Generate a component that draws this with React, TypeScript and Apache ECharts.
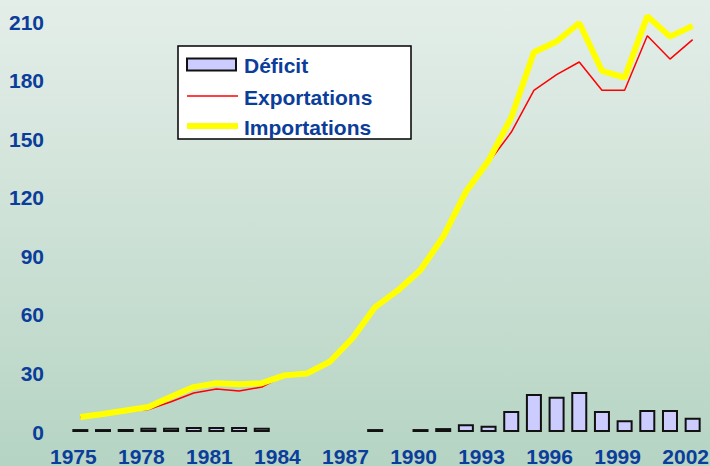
import React, { useEffect, useRef } from "react";
import * as echarts from "echarts";

const years = [
  "1975","1976","1977","1978","1979","1980","1981","1982","1983","1984",
  "1985","1986","1987","1988","1989","1990","1991","1992","1993","1994",
  "1995","1996","1997","1998","1999","2000","2001","2002",
];
const deficit: (number | null)[] = [
  1.5, 1.5, 1.5, 2.2, 2.2, 2.6, 2.6, 2.6, 2.2, null,
  null, null, null, 1.5, null, 1.5, 2, 4, 3.2, 10.8,
  19.5, 18, 20.5, 10.8, 6, 11.3, 11.3, 7.3,
];
const exportations = [
  7.5, 9, 10.5, 11.5, 15.5, 20, 22, 21, 23, 29,
  30, 36, 48, 64, 72.5, 83, 100, 122, 138, 153.5,
  175, 183, 189.5, 175, 175, 203, 191, 201,
];
const importations = [
  7.7, 9.2, 11, 12.8, 18, 23, 25, 24.5, 25, 29,
  30, 36, 48, 64, 72.5, 83, 100, 123, 139, 161,
  194.5, 200, 209.5, 185, 181.5, 213, 202.5, 208,
];
const legendNames = ["Déficit", "Exportations", "Importations"];

const BLUE = "#0b3d9a";
const FONT = "'Liberation Sans', Arial, sans-serif";

export default function App() {
  const ref = useRef<HTMLDivElement>(null);
  useEffect(() => {
    const chart = echarts.init(ref.current!, null, { renderer: "svg" });
    const textStyle = (y: number, t: string) => ({
      type: "text",
      x: 244,
      y,
      style: {
        text: t,
        fill: BLUE,
        font: `bold 21px ${FONT}`,
        verticalAlign: "middle",
        align: "left",
      },
    });
    chart.setOption({
      animation: false,
      backgroundColor: "transparent",
      grid: {
        left: 69,
        right: 6,
        top: 22,
        bottom: 34,
        containLabel: false,
        outerBoundsMode: "none",
      },
      graphic: [
        {
          type: "group",
          z: 100,
          children: [
            {
              type: "rect",
              shape: { x: 178, y: 46, width: 233, height: 93 },
              style: { fill: "#ffffff", stroke: "#000000", lineWidth: 1.5 },
            },
            {
              type: "rect",
              shape: { x: 187, y: 58.5, width: 49, height: 12 },
              style: { fill: "#ccccff", stroke: "#111111", lineWidth: 2 },
            },
            {
              type: "line",
              shape: { x1: 187, y1: 96, x2: 238, y2: 96 },
              style: { stroke: "#ff0000", lineWidth: 1.5 },
            },
            {
              type: "line",
              shape: { x1: 187, y1: 126, x2: 238, y2: 126 },
              style: { stroke: "#ffff00", lineWidth: 6 },
            },
            textStyle(65, legendNames[0]),
            textStyle(97, legendNames[1]),
            textStyle(127, legendNames[2]),
          ],
        },
      ],
      xAxis: {
        type: "category",
        data: years,
        boundaryGap: true,
        axisLine: { show: false },
        axisTick: { show: false },
        axisLabel: {
          interval: 2,
          color: BLUE,
          fontWeight: "bold",
          fontSize: 21,
          lineHeight: 16,
          fontFamily: FONT,
          margin: 16,
          padding: [0, 14, 0, 0],
        },
      },
      yAxis: {
        type: "value",
        min: 0,
        max: 210,
        interval: 30,
        splitLine: { show: false },
        axisLine: { show: false },
        axisTick: { show: false },
        axisLabel: {
          color: BLUE,
          fontWeight: "bold",
          fontSize: 21,
          fontFamily: FONT,
          margin: 25,
        },
      },
      series: [
        {
          name: "Déficit",
          type: "bar",
          data: deficit,
          barWidth: 16,
          itemStyle: { color: "#ccccff", borderColor: "#111111", borderWidth: 2 },
        },
        {
          name: "Exportations",
          type: "line",
          data: exportations,
          symbol: "none",
          clip: false,
          lineStyle: { color: "#ff0000", width: 1.5 },
          itemStyle: { color: "#ff0000" },
          z: 3,
        },
        {
          name: "Importations",
          type: "line",
          data: importations,
          symbol: "none",
          clip: false,
          lineStyle: { color: "#ffff00", width: 6 },
          itemStyle: { color: "#ffff00" },
          z: 4,
        },
      ],
    });
    return () => chart.dispose();
  }, []);
  return (
    <div
      ref={ref}
      style={{
        position: "fixed",
        left: 0,
        top: 0,
        width: 710,
        height: 466,
        background: "linear-gradient(to bottom, #e4eee9 0%, #cde1d6 50%, #b5d4c3 100%)",
      }}
    />
  );
}
